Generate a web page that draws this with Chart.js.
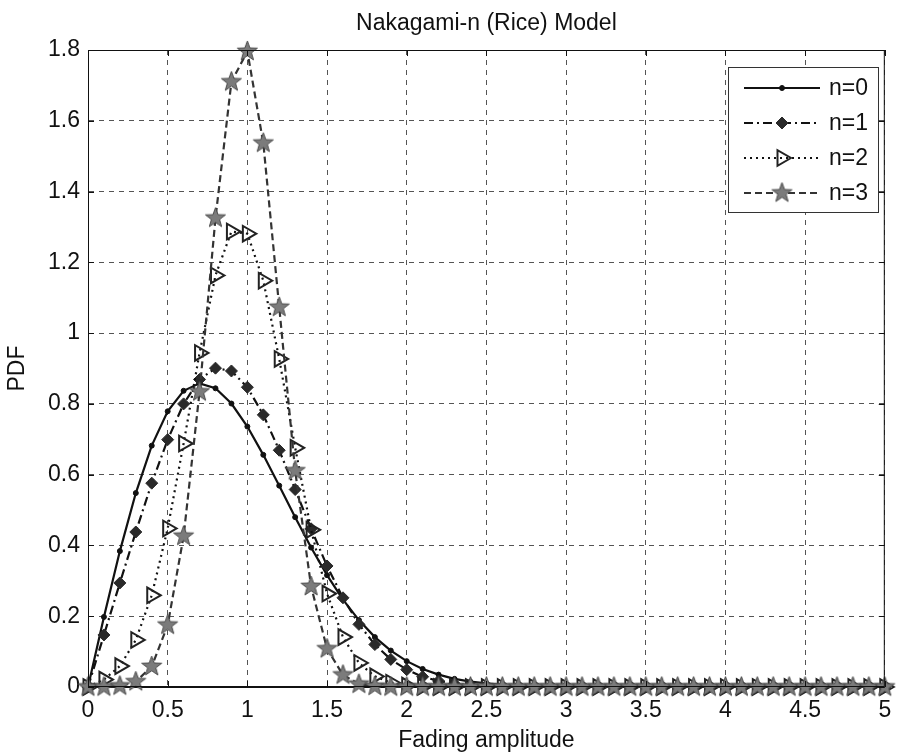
<!DOCTYPE html>
<html>
<head>
<meta charset="utf-8">
<title>Nakagami-n (Rice) Model</title>
<script src="https://cdn.jsdelivr.net/npm/chart.js@4"></script>
<style>
  body { margin: 0; background: #fff; }
  canvas { display: block; }
</style>
</head>
<body>
<canvas id="pdfChart" width="897" height="755"></canvas>
<script>
// Rice (Nakagami-n) fading PDF, one curve per n, sampled every 0.1
var chartTitle = 'Nakagami-n (Rice) Model';
var xLabel = 'Fading amplitude';
var yLabel = 'PDF';
var seriesNames = ['n=0', 'n=1', 'n=2', 'n=3'];

var amplitude = [0, 0.1, 0.2, 0.3, 0.4, 0.5, 0.6, 0.7, 0.8, 0.9,
    1.0, 1.1, 1.2, 1.3, 1.4, 1.5, 1.6, 1.7, 1.8, 1.9,
    2.0, 2.1, 2.2, 2.3, 2.4, 2.5, 2.6, 2.7, 2.8, 2.9,
    3.0, 3.1, 3.2, 3.3, 3.4, 3.5, 3.6, 3.7, 3.8, 3.9,
    4.0, 4.1, 4.2, 4.3, 4.4, 4.5, 4.6, 4.7, 4.8, 4.9, 5.0];

var pdfN0 = [0, 0.198, 0.384, 0.548, 0.682, 0.779, 0.837, 0.858, 0.844, 0.801,
    0.736, 0.656, 0.569, 0.480, 0.394, 0.316, 0.247, 0.189, 0.141, 0.103,
    0.073, 0.051, 0.035, 0.023, 0.015, 0.010, 0.006, 0.004, 0.002, 0.001,
    0.001, 0, 0, 0, 0, 0, 0, 0, 0, 0,
    0, 0, 0, 0, 0, 0, 0, 0, 0, 0, 0];

var pdfN1 = [0, 0.147, 0.294, 0.438, 0.576, 0.699, 0.800, 0.869, 0.901, 0.893,
    0.847, 0.769, 0.669, 0.558, 0.447, 0.342, 0.252, 0.177, 0.120, 0.078,
    0.049, 0.029, 0.017, 0.009, 0.005, 0.002, 0.001, 0.001, 0, 0,
    0, 0, 0, 0, 0, 0, 0, 0, 0, 0,
    0, 0, 0, 0, 0, 0, 0, 0, 0, 0, 0];

var pdfN2 = [0, 0.021, 0.059, 0.133, 0.259, 0.448, 0.688, 0.944, 1.163, 1.287,
    1.281, 1.148, 0.927, 0.676, 0.444, 0.264, 0.141, 0.068, 0.030, 0.012,
    0.004, 0.001, 0, 0, 0, 0, 0, 0, 0, 0,
    0, 0, 0, 0, 0, 0, 0, 0, 0, 0,
    0, 0, 0, 0, 0, 0, 0, 0, 0, 0, 0];

var pdfN3 = [0, 0.000, 0.003, 0.015, 0.058, 0.175, 0.426, 0.834, 1.325, 1.710,
    1.796, 1.537, 1.073, 0.611, 0.284, 0.108, 0.034, 0.008, 0.002, 0,
    0, 0, 0, 0, 0, 0, 0, 0, 0, 0,
    0, 0, 0, 0, 0, 0, 0, 0, 0, 0,
    0, 0, 0, 0, 0, 0, 0, 0, 0, 0, 0];

var xTicks = [0, 0.5, 1, 1.5, 2, 2.5, 3, 3.5, 4, 4.5, 5];
var xTickLabels = ['0', '0.5', '1', '1.5', '2', '2.5', '3', '3.5', '4', '4.5', '5'];
var yTicks = [0, 0.2, 0.4, 0.6, 0.8, 1.0, 1.2, 1.4, 1.6, 1.8];
var yTickLabels = ['0', '0.2', '0.4', '0.6', '0.8', '1', '1.2', '1.4', '1.6', '1.8'];

var FONT = "'Liberation Sans', Arial, sans-serif";
Chart.defaults.font.family = FONT;
Chart.defaults.color = '#111';

function toPoints(ys) {
    return ys.map(function (y, i) { return { x: amplitude[i], y: y }; });
}

function labelFor(ticks, labels, value) {
    for (var i = 0; i < ticks.length; i++) {
        if (Math.abs(ticks[i] - value) < 1e-6) return labels[i];
    }
    return '';
}

// filled five-point star used as a marker image
function makeStar(outer, inner, fill, stroke) {
    var size = Math.ceil(outer * 2 + 2);
    var c = document.createElement('canvas');
    c.width = size;
    c.height = size;
    var g = c.getContext('2d');
    var cx = size / 2, cy = size / 2;
    g.beginPath();
    for (var i = 0; i < 10; i++) {
        var r = i % 2 ? inner : outer;
        var a = -Math.PI / 2 + i * Math.PI / 5;
        g.lineTo(cx + r * Math.cos(a), cy + r * Math.sin(a));
    }
    g.closePath();
    g.fillStyle = fill;
    g.fill();
    g.strokeStyle = stroke;
    g.lineWidth = 1;
    g.stroke();
    return c;
}

var starMarker = makeStar(10.5, 4.3, '#7b7b7b', '#4a4a4a');

var datasets = [{
    label: seriesNames[0],
    data: toPoints(pdfN0),
    borderColor: '#111',
    borderWidth: 2.2,
    pointStyle: 'circle',
    pointRadius: 2.5,
    pointBackgroundColor: '#111',
    pointBorderColor: '#111',
    pointBorderWidth: 1,
    order: 3
}, {
    label: seriesNames[1],
    data: toPoints(pdfN1),
    borderColor: '#111',
    borderWidth: 2.2,
    borderDash: [9, 4, 2, 4],
    pointStyle: 'rectRot',
    pointRadius: 6,
    pointBackgroundColor: '#2a2a2a',
    pointBorderColor: '#2a2a2a',
    pointBorderWidth: 1,
    order: 2
}, {
    label: seriesNames[2],
    data: toPoints(pdfN2),
    borderColor: '#111',
    borderWidth: 2.2,
    borderDash: [2, 4],
    pointStyle: 'triangle',
    pointRotation: 90,
    pointRadius: 9,
    pointBackgroundColor: 'rgba(255,255,255,0)',
    pointBorderColor: '#222',
    pointBorderWidth: 2,
    order: 1
}, {
    label: seriesNames[3],
    data: toPoints(pdfN3),
    borderColor: '#333',
    borderWidth: 2.2,
    borderDash: [7, 4],
    pointStyle: starMarker,
    pointRadius: 10,
    pointBackgroundColor: '#7b7b7b',
    pointBorderColor: '#4a4a4a',
    order: 0
}];

// axes box, inward ticks, title and the legend inside the plot
var framePlugin = {
    id: 'frame',
    afterDatasetsDraw: function (chart) {
        var ctx = chart.ctx;
        var a = chart.chartArea;
        var xs = chart.scales.x, ys = chart.scales.y;
        ctx.save();
        ctx.strokeStyle = '#111';
        ctx.lineWidth = 1;
        ctx.setLineDash([]);
        ctx.strokeRect(a.left + 0.5, a.top + 0.5, a.right - a.left - 1, a.bottom - a.top - 1);
        ctx.beginPath();
        xTicks.forEach(function (v) {
            var px = Math.round(xs.getPixelForValue(v)) + 0.5;
            ctx.moveTo(px, a.bottom); ctx.lineTo(px, a.bottom - 6);
            ctx.moveTo(px, a.top); ctx.lineTo(px, a.top + 6);
        });
        yTicks.forEach(function (v) {
            var py = Math.round(ys.getPixelForValue(v)) + 0.5;
            ctx.moveTo(a.left, py); ctx.lineTo(a.left + 6, py);
            ctx.moveTo(a.right, py); ctx.lineTo(a.right - 6, py);
        });
        ctx.stroke();

        // legend
        var bx = 728, by = 67, bw = 150, bh = 145;
        ctx.fillStyle = '#fff';
        ctx.fillRect(bx, by, bw, bh);
        ctx.strokeStyle = '#333';
        ctx.strokeRect(bx + 0.5, by + 0.5, bw, bh);
        chart.data.datasets.forEach(function (ds, i) {
            var y = 88 + i * 35;
            ctx.save();
            ctx.strokeStyle = ds.borderColor;
            ctx.lineWidth = ds.borderWidth;
            ctx.setLineDash(ds.borderDash || []);
            ctx.beginPath();
            ctx.moveTo(744, y);
            ctx.lineTo(820, y);
            ctx.stroke();
            ctx.setLineDash([]);
            ctx.fillStyle = ds.pointBackgroundColor;
            ctx.strokeStyle = ds.pointBorderColor;
            ctx.lineWidth = ds.pointBorderWidth || 1;
            Chart.helpers.drawPoint(ctx, {
                pointStyle: ds.pointStyle,
                rotation: ds.pointRotation || 0,
                radius: ds.pointRadius,
                borderWidth: ds.pointBorderWidth || 1
            }, 782, y);
            ctx.restore();
            ctx.fillStyle = '#111';
            ctx.font = '23px ' + FONT;
            ctx.textAlign = 'left';
            ctx.textBaseline = 'middle';
            ctx.fillText(ds.label, 829, y + 1);
        });
        ctx.restore();
    },
    afterDraw: function (chart) {
        var ctx = chart.ctx;
        var a = chart.chartArea;
        ctx.save();
        ctx.fillStyle = '#111';
        ctx.font = '23px ' + FONT;
        ctx.textAlign = 'center';
        ctx.textBaseline = 'middle';
        ctx.fillText(chartTitle, (a.left + a.right) / 2, 24);
        ctx.restore();
    }
};

var ctx = document.getElementById('pdfChart').getContext('2d');
var pdfChart = new Chart(ctx, {
    type: 'line',
    data: { datasets: datasets },
    plugins: [framePlugin],
    options: {
        responsive: false,
        animation: false,
        devicePixelRatio: 1,
        layout: { padding: { top: 50, right: 5, bottom: 0, left: 0 } },
        elements: { line: { tension: 0 } },
        datasets: { line: { clip: false } },
        plugins: {
            legend: { display: false },
            title: { display: false },
            tooltip: { enabled: false }
        },
        scales: {
            x: {
                type: 'linear',
                min: 0,
                max: 5,
                afterBuildTicks: function (scale) {
                    scale.ticks = xTicks.map(function (v) { return { value: v }; });
                },
                afterFit: function (scale) {
                    scale.height = 68;
                    scale.paddingLeft = 0;
                    scale.paddingRight = 0;
                },
                ticks: {
                    padding: 10,
                    font: { size: 23 },
                    color: '#111',
                    maxRotation: 0,
                    callback: function (v) { return labelFor(xTicks, xTickLabels, v); }
                },
                grid: { color: '#555', lineWidth: 1, drawTicks: false },
                border: { display: true, color: '#111', dash: [5, 5] },
                title: {
                    display: true,
                    text: xLabel,
                    font: { size: 23 },
                    color: '#111',
                    padding: { top: 0, bottom: 1 }
                }
            },
            y: {
                type: 'linear',
                min: 0,
                max: 1.8,
                afterBuildTicks: function (scale) {
                    scale.ticks = yTicks.map(function (v) { return { value: v }; });
                },
                afterFit: function (scale) {
                    scale.width = 88;
                    scale.paddingTop = 0;
                    scale.paddingBottom = 0;
                },
                ticks: {
                    padding: 8,
                    font: { size: 23 },
                    color: '#111',
                    callback: function (v) { return labelFor(yTicks, yTickLabels, v); }
                },
                grid: { color: '#555', lineWidth: 1, drawTicks: false },
                border: { display: true, color: '#111', dash: [5, 5] },
                title: {
                    display: true,
                    text: yLabel,
                    font: { size: 23 },
                    color: '#111',
                    padding: { top: 4, bottom: 0 }
                }
            }
        }
    }
});
</script>
</body>
</html>
